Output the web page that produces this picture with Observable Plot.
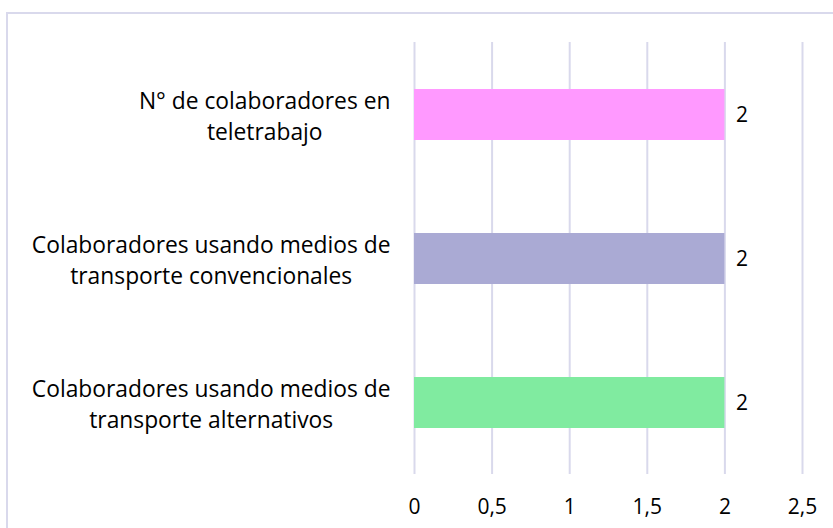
<!DOCTYPE html>
<html><head><meta charset="utf-8">
<script src="https://cdn.jsdelivr.net/npm/d3@7"></script>
<script src="https://cdn.jsdelivr.net/npm/@observablehq/plot@0.6"></script>
<style>
body{margin:0;background:#fff;}
#wrap{position:relative;width:833px;height:528px;overflow:hidden;background:#fff;}
#border{position:absolute;left:6px;top:12px;width:860px;height:560px;border:2px solid #D9D9EC;box-sizing:border-box;pointer-events:none;}
#wrap svg{position:absolute;left:0;top:0;}
</style></head><body><div id="wrap"><div id="border"></div></div>
<script>
const categories = [
  "N° de colaboradores en\nteletrabajo",
  "Colaboradores usando medios de\ntransporte convencionales",
  "Colaboradores usando medios de\ntransporte alternativos"
];
const values = [2, 2, 2];
const colors = ["#FF99FF", "#AAAAD4", "#80EBA0"];
const xTicks = [0, 0.5, 1, 1.5, 2, 2.5];

const data = categories.map((c, i) => ({category: c, value: values[i], color: colors[i]}));
const fmt = d => String(d).replace(".", ",");
const FS = 21;
const FSY = 22.8;

const chart = Plot.plot({
  width: 833,
  height: 528,
  marginLeft: 414,
  marginRight: 31,
  marginTop: 42,
  marginBottom: 54,
  style: {fontFamily: "'Open Sans', sans-serif", fontSize: FS + "px", color: "#000", background: "transparent", overflow: "visible"},
  x: {domain: [0, 2.5]},
  y: {domain: categories, paddingInner: 0.646, paddingOuter: 0.323},
  marks: [
    Plot.ruleX(xTicks, {stroke: "#D9D9EC", strokeWidth: 2}),
    Plot.barX(data, {x: "value", y: "category", fill: "color"}),
    Plot.text(data, {x: "value", y: "category", text: d => fmt(d.value), dx: 11, textAnchor: "start", fontSize: FS, fill: "#000"}),
    Plot.axisX({ticks: xTicks, tickSize: 0, tickPadding: 25, tickFormat: fmt, fontSize: FS, label: null}),
    Plot.axisY({tickSize: 0, tickPadding: 24, fontSize: FSY, lineHeight: 31 / FSY, label: null})
  ]
});
document.getElementById("wrap").prepend(chart);

// center each line of a multi-line category label within its right-aligned block
chart.querySelectorAll('g[aria-label="y-axis tick label"] text').forEach(t => {
  const spans = t.querySelectorAll("tspan");
  if (!spans.length) return;
  let w = 0;
  spans.forEach(s => { w = Math.max(w, s.getComputedTextLength()); });
  t.setAttribute("text-anchor", "middle");
  spans.forEach(s => s.setAttribute("x", -w / 2));
});
</script>
</body></html>
